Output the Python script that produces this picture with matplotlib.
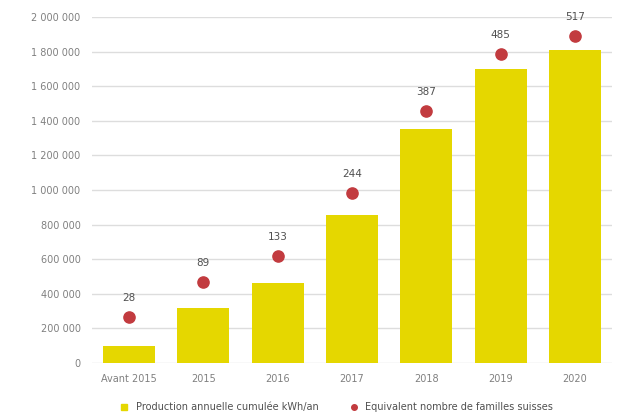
import numpy as np
import matplotlib.pyplot as plt
from matplotlib.lines import Line2D

# data
years = ["Avant 2015", "2015", "2016", "2017", "2018", "2019", "2020"]
production_kwh = [100000, 316000, 461000, 855000, 1351000, 1698000, 1809000]
familles = [28, 89, 133, 244, 387, 485, 517]
yticks = [0, 200000, 400000, 600000, 800000, 1000000, 1200000, 1400000,
          1600000, 1800000, 2000000]

bar_color = "#E5D700"
dot_color = "#C23B3F"
grey = "#808080"

fig = plt.figure(figsize=(6.24, 4.19), dpi=100)
ax = fig.add_axes([0.147, 0.134, 0.834, 0.825])

x = np.arange(len(years))
ax.bar(x, production_kwh, width=0.7, color=bar_color, zorder=2)
ax.set_xlim(-0.5, len(years) - 0.5)
ax.set_ylim(0, 2000000)
ax.set_yticks(yticks)
ax.set_yticklabels([f"{v:,}".replace(",", " ") for v in yticks])
ax.set_xticks(x)
ax.set_xticklabels(years)
ax.tick_params(length=0, labelsize=7, colors=grey, pad=8)
ax.grid(axis="y", color="#DDDDDD", linewidth=1, zorder=0)
for s in ax.spines.values():
    s.set_visible(False)

# secondary (hidden) axis for the number of families
ax2 = ax.twinx()
ax2.set_ylim(-52.7, 549.7)
ax2.scatter(x, familles, s=65, color=dot_color, zorder=3)
for xi, f in zip(x, familles):
    ax2.annotate(str(f), (xi, f), xytext=(0, 10), textcoords="offset points",
                 ha="center", va="bottom", fontsize=7.5, color="#505050")
ax2.axis("off")

handles = [
    Line2D([], [], marker="s", linestyle="none", color=bar_color, markersize=5),
    Line2D([], [], marker="o", linestyle="none", color=dot_color, markersize=4),
]
fig.legend(handles, ["Production annuelle cumulée kWh/an",
                     "Equivalent nombre de familles suisses"],
           loc="lower center", bbox_to_anchor=(0.535, -0.005), ncol=2,
           frameon=False, fontsize=7, handletextpad=0.2, columnspacing=2.6,
           labelcolor="#505050")

fig.savefig("out.png", dpi=100)
